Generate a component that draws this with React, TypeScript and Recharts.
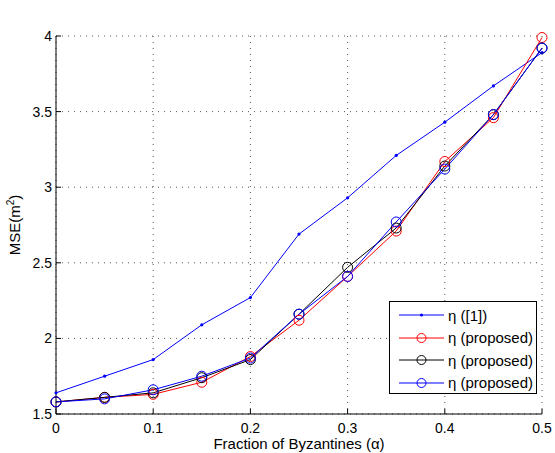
import React from 'react';
import { LineChart, Line, XAxis, YAxis, CartesianGrid, Legend } from 'recharts';

const ALPHA = [0, 0.05, 0.1, 0.15, 0.2, 0.25, 0.3, 0.35, 0.4, 0.45, 0.5];
const ETA_REF = [1.64, 1.75, 1.86, 2.09, 2.27, 2.69, 2.93, 3.21, 3.43, 3.67, 3.89];
const ETA_RED = [1.58, 1.61, 1.63, 1.71, 1.88, 2.12, 2.41, 2.71, 3.17, 3.46, 3.99];
const ETA_BLACK = [1.58, 1.61, 1.64, 1.74, 1.86, 2.16, 2.47, 2.73, 3.14, 3.48, 3.92];
const ETA_BLUE = [1.58, 1.6, 1.66, 1.75, 1.87, 2.16, 2.41, 2.77, 3.12, 3.48, 3.92];

const X_TICKS = [0, 0.1, 0.2, 0.3, 0.4, 0.5];
const Y_TICKS = [1.5, 2, 2.5, 3, 3.5, 4];

const SERIES = [
  { key: 'ref', name: 'η ([1])', color: '#0000ff', circle: false },
  { key: 'red', name: 'η (proposed)', color: '#ff0000', circle: true },
  { key: 'black', name: 'η (proposed)', color: '#000000', circle: true },
  { key: 'blue', name: 'η (proposed)', color: '#0000ff', circle: true },
];

const data = ALPHA.map((x, i) => ({
  x,
  ref: ETA_REF[i],
  red: ETA_RED[i],
  black: ETA_BLACK[i],
  blue: ETA_BLUE[i],
}));

const FONT = '"Liberation Sans", Arial, Helvetica, sans-serif';
const TICK_LEN = 5;

const BottomTick = (props: any) => {
  const { x, y, payload } = props;
  return (
    <g>
      <line x1={x} y1={y} x2={x} y2={y - TICK_LEN} stroke="#000" />
      <text x={x} y={y + 19} textAnchor="middle" fontSize={14} fontFamily={FONT} fill="#000">
        {payload.value}
      </text>
    </g>
  );
};

const LeftTick = (props: any) => {
  const { x, y, payload } = props;
  return (
    <g>
      <line x1={x} y1={y} x2={x + TICK_LEN} y2={y} stroke="#000" />
      <text x={x - 4} y={y + 5} textAnchor="end" fontSize={14} fontFamily={FONT} fill="#000">
        {payload.value}
      </text>
    </g>
  );
};

const TopTick = (props: any) => {
  const { x, y } = props;
  return <line x1={x} y1={y} x2={x} y2={y + TICK_LEN} stroke="#000" />;
};

const RightTick = (props: any) => {
  const { x, y } = props;
  return <line x1={x} y1={y} x2={x - TICK_LEN} y2={y} stroke="#000" />;
};

const renderLegend = () => (
  <div
    style={{
      width: 148,
      height: 93,
      boxSizing: 'border-box',
      border: '1px solid #000',
      background: '#fff',
      paddingTop: 2,
    }}
  >
    {SERIES.map((s, i) => (
      <div key={i} style={{ display: 'flex', alignItems: 'center', height: 22.5 }}>
        <svg width={58} height={14} style={{ display: 'block' }}>
          <line x1={9} y1={7} x2={54} y2={7} stroke={s.color} strokeWidth={1} />
          {s.circle ? (
            <circle cx={31.5} cy={7} r={4.5} fill="none" stroke={s.color} strokeWidth={1} />
          ) : (
            <circle cx={31.5} cy={7} r={1.6} fill={s.color} />
          )}
        </svg>
        <span style={{ fontFamily: FONT, fontSize: 15, color: '#000', whiteSpace: 'nowrap' }}>{s.name}</span>
      </div>
    ))}
  </div>
);

const App: React.FC = () => {
  return (
    <div style={{ position: 'relative', width: 555, height: 453, background: '#fff' }}>
      <style>{'body{margin:0;background:#fff}'}</style>
      <LineChart width={555} height={453} data={data} margin={{ top: 36, right: 13, bottom: 0, left: 0 }}>
        <CartesianGrid stroke="#555" strokeDasharray="1 5" />
        <XAxis
          dataKey="x"
          type="number"
          domain={[0, 0.5]}
          ticks={X_TICKS}
          height={39}
          tickSize={0}
          tickMargin={0}
          tickLine={false}
          tick={<BottomTick />}
          axisLine={{ stroke: '#000' }}
          label={{
            content: (p: any) => (
              <text
                x={p.viewBox.x + p.viewBox.width / 2}
                y={p.viewBox.y + 35}
                textAnchor="middle"
                fontSize={15}
                fontFamily={FONT}
                fill="#000"
              >
                Fraction of Byzantines (α)
              </text>
            ),
          }}
        />
        <XAxis
          xAxisId="top"
          orientation="top"
          dataKey="x"
          type="number"
          domain={[0, 0.5]}
          ticks={X_TICKS}
          height={0}
          tickSize={0}
          tickMargin={0}
          tickLine={false}
          tick={<TopTick />}
          axisLine={{ stroke: '#000' }}
          label={{
            content: (p: any) => (
              <text
                x={p.viewBox.x + p.viewBox.width / 2}
                y={25}
                textAnchor="middle"
                fontSize={14.5}
                fontFamily={FONT}
                fill="#000"
              >
                N=64
              </text>
            ),
          }}
        />
        <YAxis
          type="number"
          domain={[1.5, 4]}
          ticks={Y_TICKS}
          width={56}
          tickSize={0}
          tickMargin={0}
          tickLine={false}
          tick={<LeftTick />}
          axisLine={{ stroke: '#000' }}
          label={{
            content: (p: any) => {
              const cy = p.viewBox.y + p.viewBox.height / 2;
              return (
                <text
                  transform={`rotate(-90, 20, ${cy})`}
                  x={20}
                  y={cy}
                  textAnchor="middle"
                  fontSize={15}
                  fontFamily={FONT}
                  fill="#000"
                >
                  MSE(m
                  <tspan dy={-6} fontSize={10}>2</tspan>
                  <tspan dy={6}>)</tspan>
                </text>
              );
            },
          }}
        />
        <YAxis
          yAxisId="right"
          orientation="right"
          type="number"
          domain={[1.5, 4]}
          ticks={Y_TICKS}
          width={0}
          tickSize={0}
          tickMargin={0}
          tickLine={false}
          tick={<RightTick />}
          axisLine={{ stroke: '#000' }}
        />
        <Legend
          layout="vertical"
          align="center"
          verticalAlign="middle"
          content={renderLegend}
          wrapperStyle={{ position: 'absolute', left: 389, top: 301, width: 148, height: 93 }}
        />
        {SERIES.map((s) => (
          <Line
            key={s.key}
            dataKey={s.key}
            name={s.name}
            stroke={s.color}
            strokeWidth={1}
            isAnimationActive={false}
            activeDot={false}
            dot={
              s.circle
                ? { r: 5, fill: 'none', stroke: s.color, strokeWidth: 1 }
                : { r: 1.6, fill: s.color, stroke: s.color, strokeWidth: 0 }
            }
          />
        ))}
      </LineChart>
    </div>
  );
};

export default App;
